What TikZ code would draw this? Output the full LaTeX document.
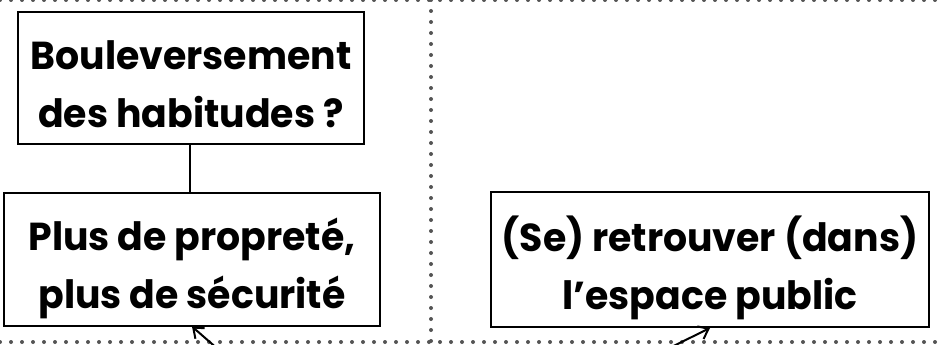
\documentclass[tikz,border=0pt]{standalone}
\usepackage{fontspec}
\setmainfont{Poppins}[UprightFont=* SemiBold, BoldFont=* Bold, FakeStretch=0.97]
\usepackage{tikz}
\usetikzlibrary{arrows.meta}

\tikzset{
    idea/.style={draw=black, line width=2pt, align=center, inner sep=0pt,
        text height=99pt, text depth=0pt,
        font=\fontsize{39}{58}\selectfont\bfseries},
    frame/.style={draw=black!67, line width=4pt, line cap=round,
        dash pattern=on 0pt off 11pt},
    link/.style={draw=black, line width=2pt,
        -{Straight Barb[length=9pt, width=14pt, line width=2pt]}}
}

\begin{document}
\begin{tikzpicture}[x=1pt, y=-1pt]
    \useasboundingbox (0,0) rectangle (939,345);
    \clip (0,0) rectangle (939,345);

    % dotted frame
    \draw[frame] (0,0) -- (939,0);
    \draw[frame] (0,342) -- (939,342);
    \draw[frame] (431,0) -- (431,342);

    % boxes
    \node[idea, minimum width=346pt, minimum height=132pt] (habitudes) at (191,78)
        {Bouleversement\\des habitudes ?};
    \node[idea, minimum width=376pt, minimum height=133pt] (proprete) at (192,259)
        {Plus de propreté,\\plus de sécurité};
    \node[idea, minimum width=438pt, minimum height=135pt] (espace) at (710,259.5)
        {(Se) retrouver (dans)\\l’espace public};

    \draw[line width=2pt] (habitudes.south -| 190,0) -- (proprete.north -| 190,0);

    % incoming arrows
    \coordinate (fromA) at (235,364);
    \coordinate (fromB) at (641,362);
    \draw[link] (fromA) -- (proprete.south);
    \draw[link] (fromB) -- (espace.south);
\end{tikzpicture}
\end{document}
